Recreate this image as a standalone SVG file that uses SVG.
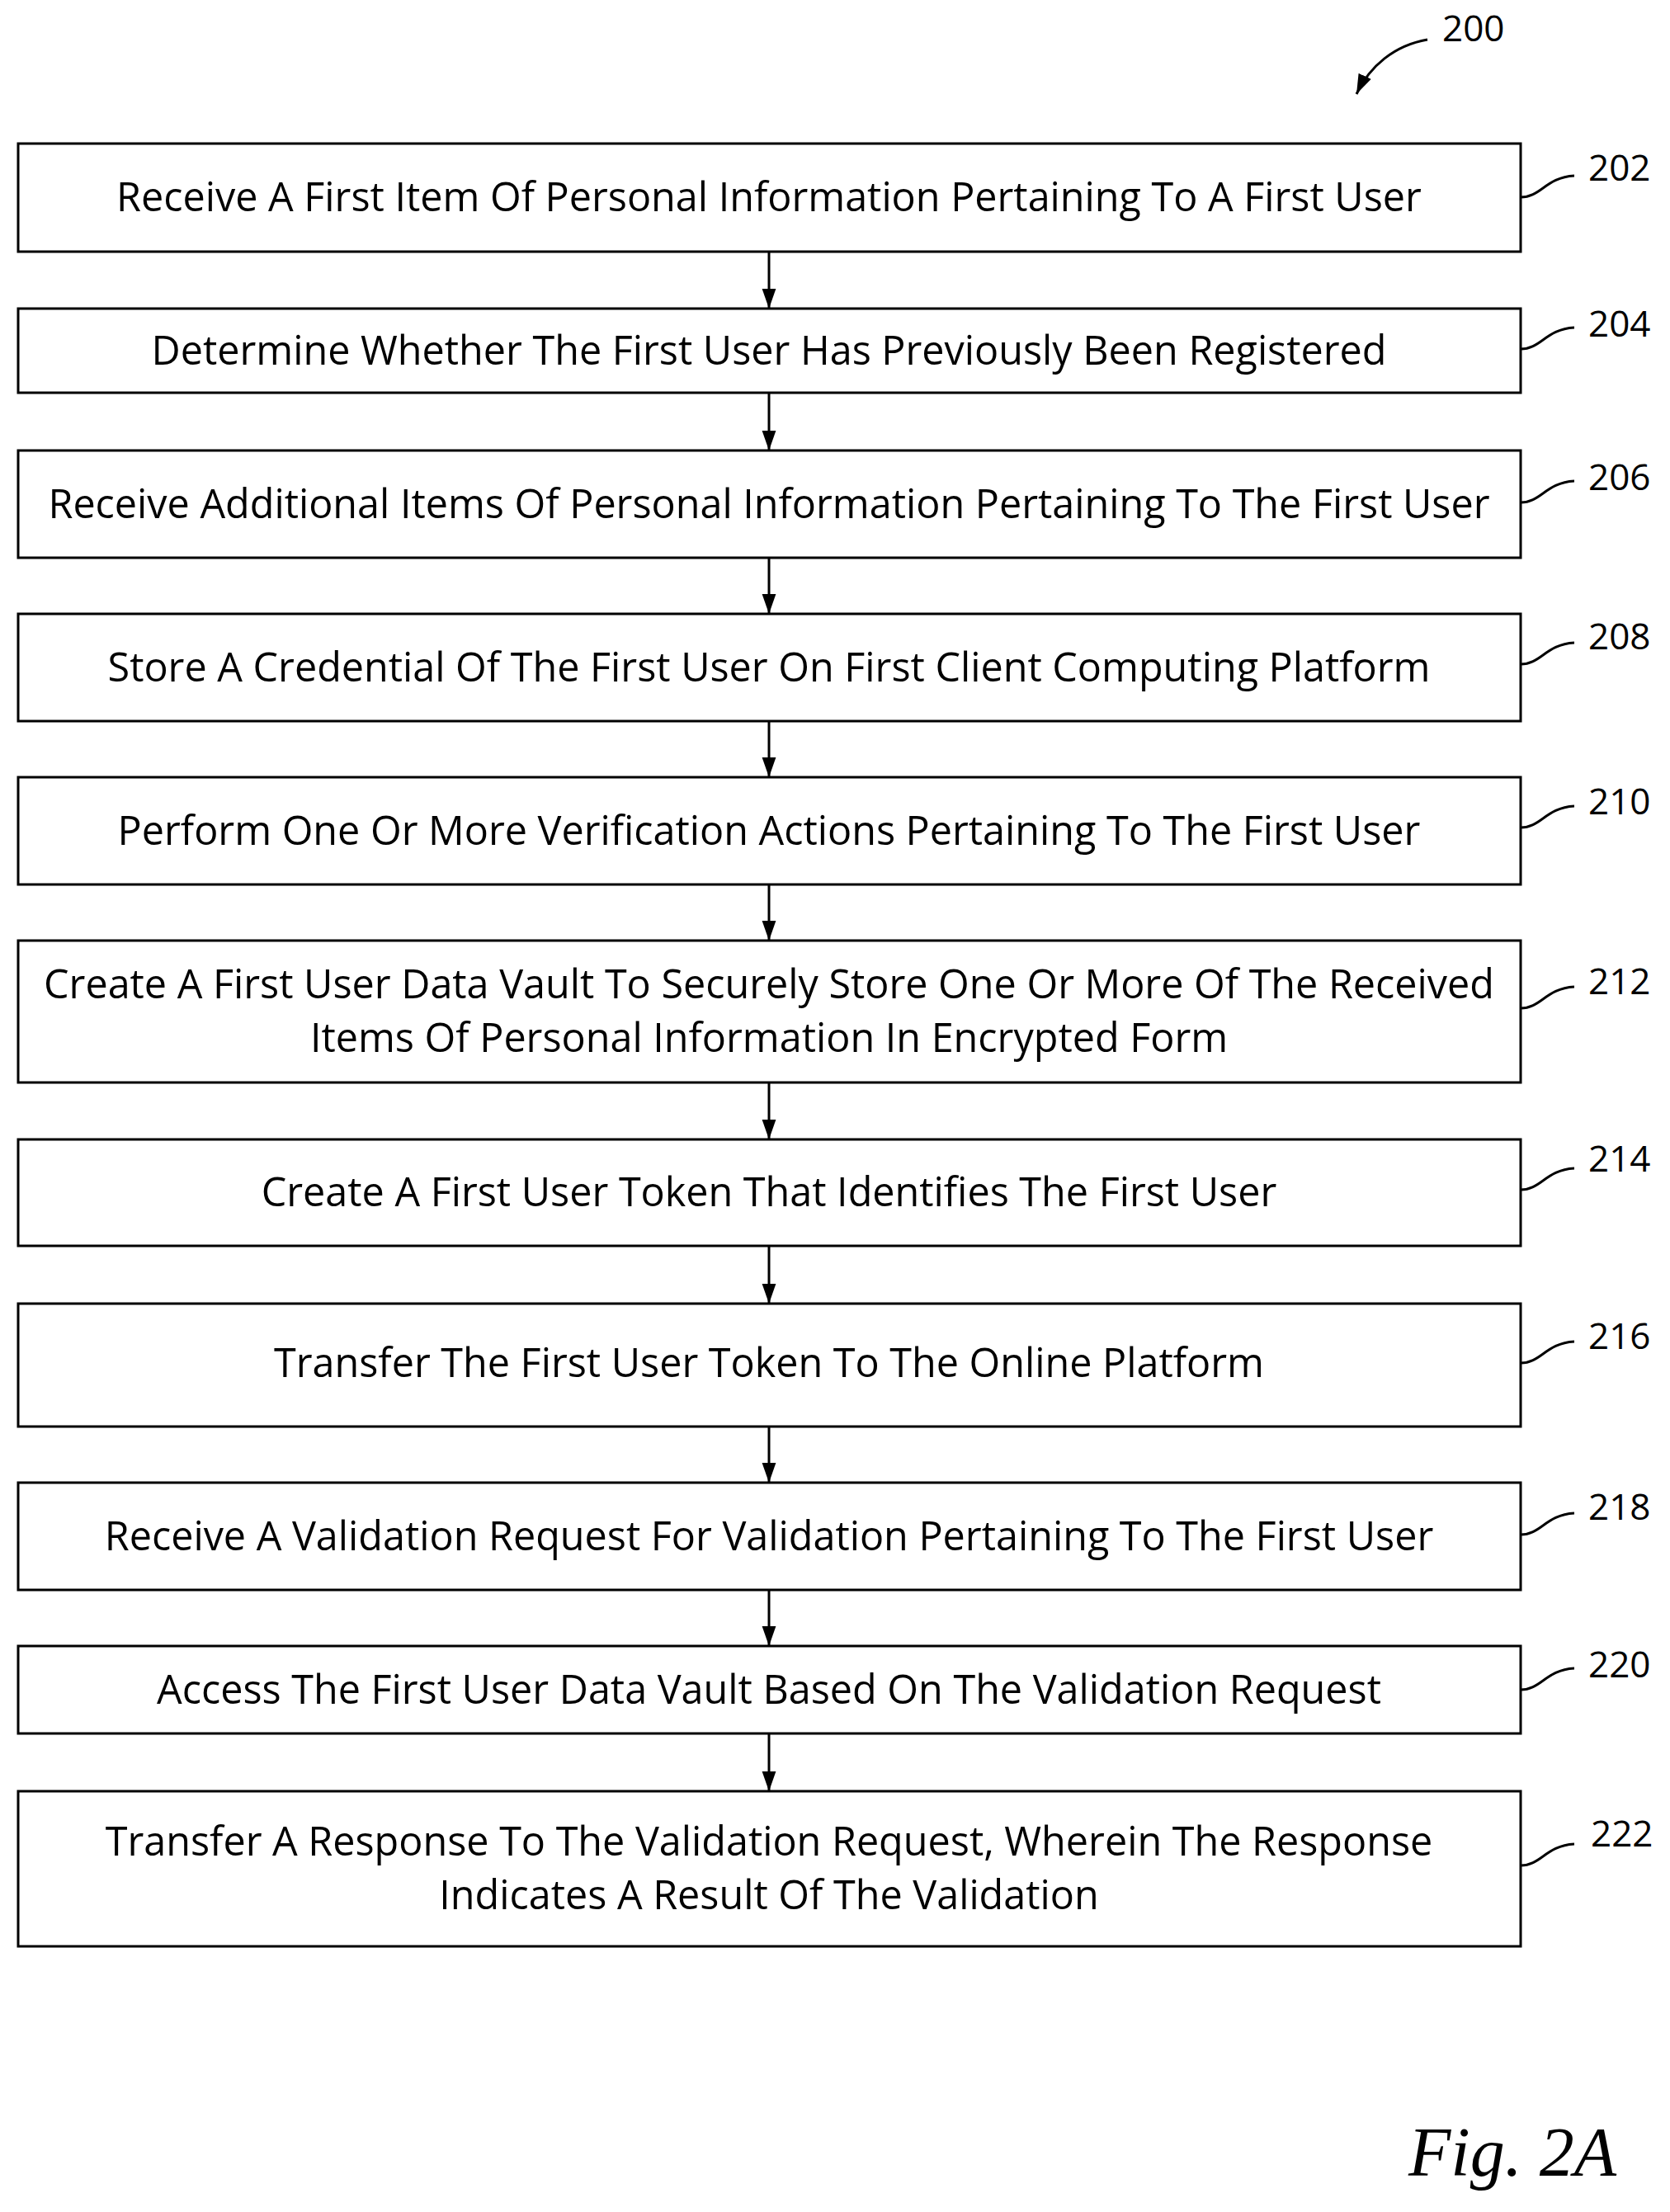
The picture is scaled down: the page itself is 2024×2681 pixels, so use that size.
<svg xmlns="http://www.w3.org/2000/svg" width="2024" height="2681" viewBox="0 0 2024 2681">
<style>
.b{fill:#fff;stroke:#000;stroke-width:3}
.t{font-family:"Open Sans","Liberation Sans",sans-serif;font-size:48.5px;text-anchor:middle;fill:#000}
.n{font-family:"Open Sans","Liberation Sans",sans-serif;font-size:44px;fill:#000}
.c{fill:none;stroke:#000;stroke-width:3}
</style>
<defs><marker id="a" viewBox="0 0 10 10" refX="10" refY="5" markerWidth="8" markerHeight="8" orient="auto" markerUnits="strokeWidth"><path d="M0,1.5L10,5L0,8.5z" fill="#000"/></marker></defs>
<rect width="2024" height="2681" fill="#fff"/>
<g id="connectors">
<path class="c" marker-end="url(#a)" d="M932,305V374"/>
<path class="c" marker-end="url(#a)" d="M932,476V546"/>
<path class="c" marker-end="url(#a)" d="M932,676V744"/>
<path class="c" marker-end="url(#a)" d="M932,874V942"/>
<path class="c" marker-end="url(#a)" d="M932,1072V1140"/>
<path class="c" marker-end="url(#a)" d="M932,1312V1381"/>
<path class="c" marker-end="url(#a)" d="M932,1510V1580"/>
<path class="c" marker-end="url(#a)" d="M932,1729V1797"/>
<path class="c" marker-end="url(#a)" d="M932,1927V1995"/>
<path class="c" marker-end="url(#a)" d="M932,2101V2171"/>
<path class="c" marker-end="url(#a)" d="M1730,48C1690,55 1660,80 1644,114"/>
<path class="c" d="M1843,239c25,0 30,-24 65,-26 M1843,423c25,0 30,-24 65,-26 M1843,609c25,0 30,-24 65,-26 M1843,805c25,0 30,-24 65,-26 M1843,1003c25,0 30,-24 65,-26 M1843,1222c25,0 30,-24 65,-26 M1843,1442c25,0 30,-24 65,-26 M1843,1652c25,0 30,-24 65,-26 M1843,1860c25,0 30,-24 65,-26 M1843,2048c25,0 30,-24 65,-26 M1843,2261c25,0 30,-24 65,-26"/>
</g>
<text class="n" x="1748" y="50">200</text>
<g id="n202"><rect class="b" x="22" y="174" width="1821" height="131"/><text class="t" x="932" y="256">Receive A First Item Of Personal Information Pertaining To A First User</text><text class="n" x="1925" y="219">202</text></g>
<g id="n204"><rect class="b" x="22" y="374" width="1821" height="102"/><text class="t" x="932" y="442">Determine Whether The First User Has Previously Been Registered</text><text class="n" x="1925" y="408">204</text></g>
<g id="n206"><rect class="b" x="22" y="546" width="1821" height="130"/><text class="t" x="932" y="628">Receive Additional Items Of Personal Information Pertaining To The First User</text><text class="n" x="1925" y="594">206</text></g>
<g id="n208"><rect class="b" x="22" y="744" width="1821" height="130"/><text class="t" x="932" y="826">Store A Credential Of The First User On First Client Computing Platform</text><text class="n" x="1925" y="787">208</text></g>
<g id="n210"><rect class="b" x="22" y="942" width="1821" height="130"/><text class="t" x="932" y="1024">Perform One Or More Verification Actions Pertaining To The First User</text><text class="n" x="1925" y="987">210</text></g>
<g id="n212"><rect class="b" x="22" y="1140" width="1821" height="172"/><text class="t" x="932" y="1210">Create A First User Data Vault To Securely Store One Or More Of The Received</text><text class="t" x="932" y="1275">Items Of Personal Information In Encrypted Form</text><text class="n" x="1925" y="1205">212</text></g>
<g id="n214"><rect class="b" x="22" y="1381" width="1821" height="129"/><text class="t" x="932" y="1462">Create A First User Token That Identifies The First User</text><text class="n" x="1925" y="1420">214</text></g>
<g id="n216"><rect class="b" x="22" y="1580" width="1821" height="149"/><text class="t" x="932" y="1669">Transfer The First User Token To The Online Platform</text><text class="n" x="1925" y="1635">216</text></g>
<g id="n218"><rect class="b" x="22" y="1797" width="1821" height="130"/><text class="t" x="932" y="1879">Receive A Validation Request For Validation Pertaining To The First User</text><text class="n" x="1925" y="1842">218</text></g>
<g id="n220"><rect class="b" x="22" y="1995" width="1821" height="106"/><text class="t" x="932" y="2065">Access The First User Data Vault Based On The Validation Request</text><text class="n" x="1925" y="2033">220</text></g>
<g id="n222"><rect class="b" x="22" y="2171" width="1821" height="188"/><text class="t" x="932" y="2249">Transfer A Response To The Validation Request, Wherein The Response</text><text class="t" x="932" y="2314">Indicates A Result Of The Validation</text><text class="n" x="1928" y="2238">222</text></g>
<text x="1707" y="2637" font-family="Liberation Serif,serif" font-style="italic" font-size="84">Fig. 2A</text>
</svg>
